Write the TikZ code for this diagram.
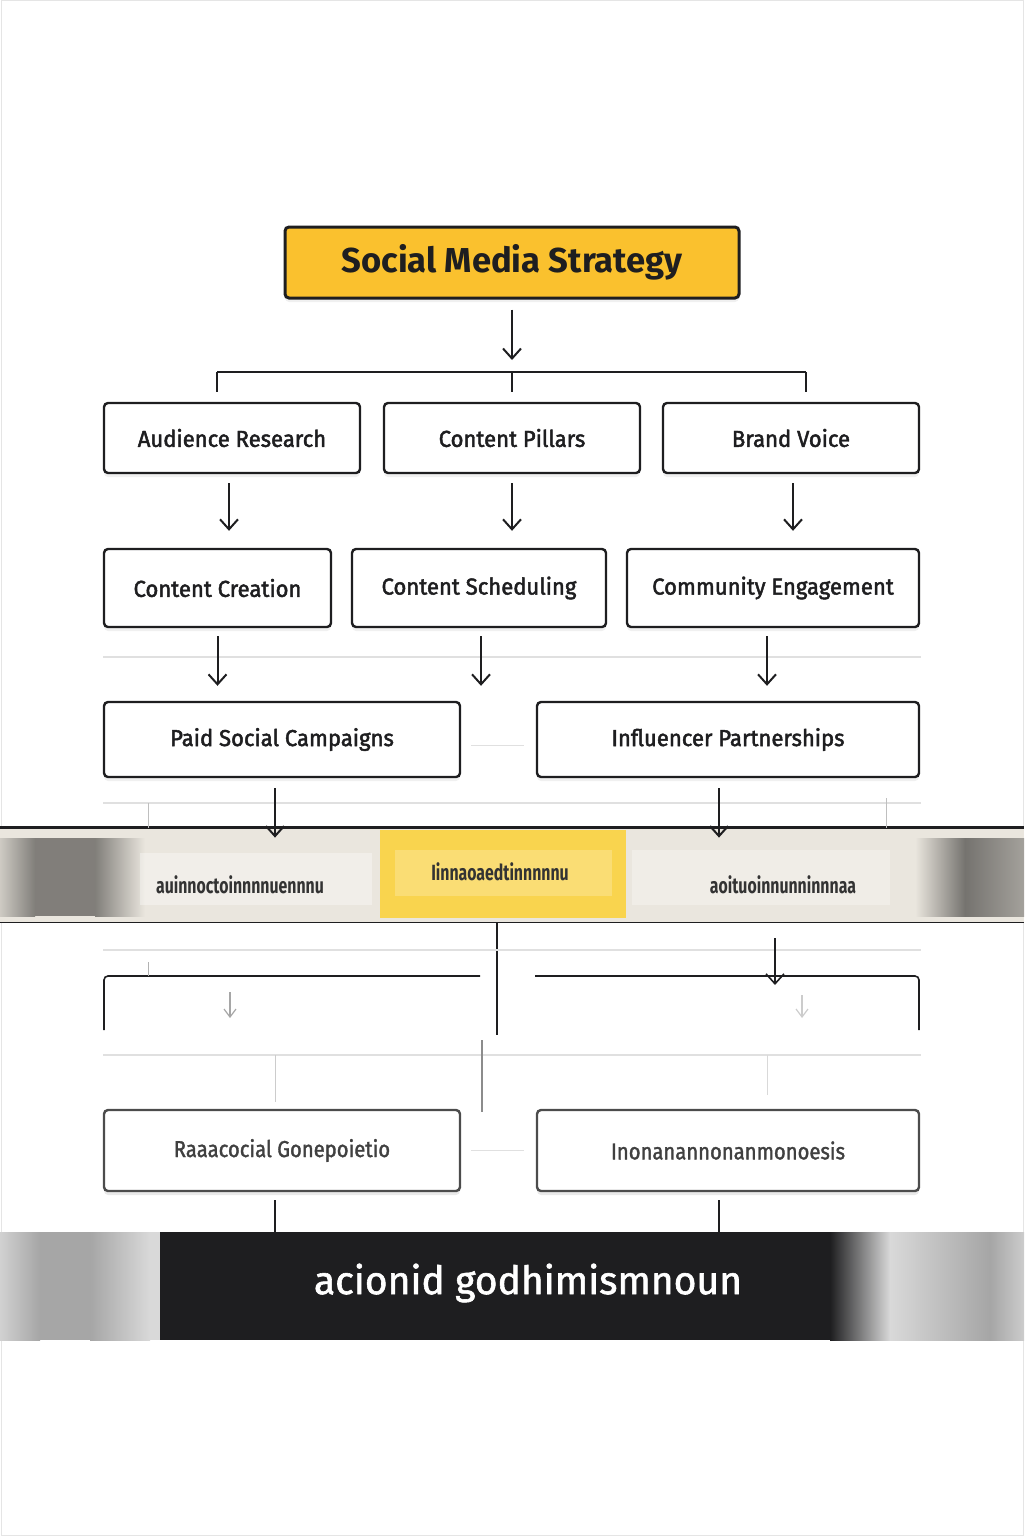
\documentclass[tikz,border=0pt]{standalone}
\usepackage{fontspec}
\setmainfont{Fira Sans}
\usepackage{xcolor}
\usetikzlibrary{arrows.meta,calc,positioning,shadows}
\definecolor{stratyellow}{RGB}{250,193,46}
\definecolor{bandbeige}{RGB}{234,230,222}
\definecolor{bandyellow}{RGB}{249,212,78}
\definecolor{inkblack}{RGB}{30,30,32}

\begin{document}
\begin{tikzpicture}[x=0.5pt,y=-0.5pt,
	box/.style={draw=inkblack,line width=1.2pt,rounded corners=2pt,fill=white,inner sep=0pt,
		drop shadow={opacity=0.12,shadow xshift=0pt,shadow yshift=-2pt},
		font=\fontsize{11.5}{13}\selectfont\addfontfeatures{FakeBold=2,FakeStretch=0.96},text=inkblack},
	topbox/.style={box,fill=stratyellow,line width=1.5pt,
		font=\fontsize{17.3}{20}\selectfont\bfseries},
	blurbox/.style={box,draw=black!70,drop shadow={opacity=0.06,shadow xshift=0pt,shadow yshift=-2pt},
		font=\fontsize{11.5}{13}\selectfont\addfontfeatures{FakeStretch=0.88,FakeBold=1.5},text=black!75},
	arr/.style={-{Straight Barb[length=5pt,width=9pt]},line width=1pt,draw=inkblack},
	conn/.style={line width=1pt,draw=inkblack},
	faint/.style={draw=black!12,line width=0.6pt},
	garble/.style={font=\fontsize{11}{12}\selectfont\bfseries\addfontfeatures{FakeStretch=0.72},text=black!80}]
	\useasboundingbox (0,0) rectangle (1024,1536);
	\draw[black!10,line width=0.5pt] (1,1) rectangle (1023,1535);

	% top of the tree
	\node[topbox,minimum width=227pt,minimum height=35.5pt] (strat) at (512,262.5) {Social Media Strategy};
	\coordinate (busc) at (512,372);
	\coordinate (busl) at (217,372);
	\coordinate (busr) at (806,372);

	\node[box,minimum width=128pt,minimum height=35pt] (aud) at (232,438) {Audience Research};
	\node[box,minimum width=128pt,minimum height=35pt] (pil) at (512,438) {Content Pillars};
	\node[box,minimum width=128pt,minimum height=35pt] (voice) at (791,438) {Brand Voice};

	\node[box,minimum width=113.5pt,minimum height=39pt] (creat) at (217.5,588) {Content Creation};
	\node[box,minimum width=127pt,minimum height=39pt] (sched) at (479,588) {Content Scheduling};
	\node[box,minimum width=146pt,minimum height=39pt] (comm) at (773,588) {Community Engagement};

	\node[box,minimum width=178pt,minimum height=37.5pt] (paid) at (282,739.5) {Paid Social Campaigns};
	\node[box,minimum width=191pt,minimum height=37.5pt] (infl) at (728,739.5) {Influencer Partnerships};

	\draw[arr] ([yshift=-5pt]strat.south) -- ([yshift=6pt]busc);
	\draw[conn] (busl) -- (busr);
	\draw[conn] (busl) -- ([yshift=5pt]busl |- aud.north);
	\draw[conn] (busc) -- ([yshift=5pt]pil.north);
	\draw[conn] (busr) -- ([yshift=5pt]busr |- voice.north);

	\draw[arr] ([yshift=-4.5pt,xshift=-1.5pt]aud.south) -- ([yshift=8.5pt,xshift=-1.5pt]aud.south |- creat.north);
	\draw[arr] ([yshift=-4.5pt]pil.south) -- ([yshift=8.5pt]pil.south |- sched.north);
	\draw[arr] ([yshift=-4.5pt,xshift=1pt]voice.south) -- ([yshift=8.5pt,xshift=1pt]voice.south |- comm.north);

	\draw[faint] (103,657) -- (921,657);
	\draw[arr] ([yshift=-4pt]creat.south) -- ([yshift=7.5pt]creat.south |- paid.north);
	\draw[arr] ([yshift=-4pt,xshift=1pt]sched.south) -- ([yshift=7.5pt,xshift=1pt]sched.south |- paid.north);
	\draw[arr] ([yshift=-4pt,xshift=-3pt]comm.south) -- ([yshift=7.5pt,xshift=-3pt]comm.south |- infl.north);
	\draw[faint] (paid.east) ++(5pt,-3pt) -- ([xshift=-6pt,yshift=-3pt]infl.west);

	% blurred band
	\node[minimum width=512pt,minimum height=47pt,inner sep=0pt,fill=bandbeige] (band) at (512,875) {};
	\shade[left color=black!12!bandbeige,right color=black!45!bandbeige] (0,838) rectangle (35,916);
	\fill[black!45!bandbeige] (35,838) rectangle (95,916);
	\shade[left color=black!45!bandbeige,right color=bandbeige] (95,838) rectangle (145,916);
	\shade[left color=bandbeige,right color=black!50!bandbeige] (915,838) rectangle (965,916);
	\shade[left color=black!50!bandbeige,right color=black!30!bandbeige] (965,838) rectangle (1024,916);
	\fill[white,opacity=0.35] (140,853) rectangle (372,905);
	\fill[white,opacity=0.3] (632,850) rectangle (890,905);
	\fill[bandyellow] (380,830) rectangle (626,918);
	\fill[white,opacity=0.22] (395,850) rectangle (612,896);
	\draw[inkblack,line width=1.3pt] (band.north west) -- (band.north east);
	\draw[inkblack,line width=0.9pt] (band.south west) -- (band.south east);
	\node[garble] (bandl) at (240,885) {auinnoctoinnnnuennnu};
	\node[garble] (bandm) at (500,872) {Iinnaoaedtinnnnnu};
	\node[garble] (bandr) at (783,885) {aoituoinnunninnnaa};

	\draw[faint] (103,803) -- (921,803);
	\draw[black!25,line width=0.5pt] (148,803) -- (148,828);
	\draw[black!25,line width=0.5pt] (886,798) -- (886,828);
	\draw[arr] ([yshift=-5pt,xshift=-3.5pt]paid.south) -- ([yshift=-5pt,xshift=-3.5pt]paid.south |- band.north);
	\draw[arr] ([yshift=-5pt,xshift=-4.5pt]infl.south) -- ([yshift=-5pt,xshift=-4.5pt]infl.south |- band.north);

	% under the band
	\coordinate (midl) at (497,1035);
	\draw[conn] ([xshift=-7.5pt]band.south) -- (midl);
	\draw[faint] (103,950) -- (921,950);
	\draw[conn,line width=0.8pt,rounded corners=2pt] (104,1030) -- (104,976) -- (480,976);
	\draw[conn,line width=0.8pt,rounded corners=2pt] (535,976) -- (919,976) -- (919,1030);
	\draw[arr,line width=0.8pt] (775,938) -- (775,985);
	\draw[black!30,line width=0.5pt] (148,962) -- (148,976);
	\draw[-{Straight Barb[length=4pt,width=6pt]},black!35,line width=0.6pt] (230,992) -- (230,1018);
	\draw[-{Straight Barb[length=4pt,width=6pt]},black!20,line width=0.6pt] (802,995) -- (802,1018);
	\draw[faint] (103,1055) -- (921,1055);
	\draw[black!20,line width=0.5pt] (275,1055) -- (275,1102);
	\draw[black!45,line width=0.6pt] (482,1040) -- (482,1112);
	\draw[black!15,line width=0.5pt] (767,1055) -- (767,1095);

	\node[blurbox,minimum width=178pt,minimum height=40.5pt] (paidb) at (282,1150.5) {Raaacocial Gonepoietio};
	\node[blurbox,minimum width=191pt,minimum height=40.5pt] (inflb) at (728,1150.5) {Inonanannonanmonoesis};
	\draw[faint] ([xshift=5pt]paidb.east) -- ([xshift=-6pt]inflb.west);

	% dark footer
	\node[minimum width=512pt,minimum height=54pt,inner sep=0pt,fill=inkblack] (foot) at (512,1286) {};
	\shade[left color=black!18,right color=black!35] (0,1232) rectangle (40,1340);
	\fill[black!35] (40,1232) rectangle (90,1340);
	\shade[left color=black!35,right color=black!15] (90,1232) rectangle (150,1340);
	\fill[black!15] (150,1232) rectangle (160,1340);
	\shade[left color=inkblack,right color=black!15] (830,1232) rectangle (890,1340);
	\shade[left color=black!15,right color=black!35] (890,1232) rectangle (990,1340);
	\shade[left color=black!35,right color=black!20] (990,1232) rectangle (1024,1340);
	\node[text=white,font=\fontsize{19.5}{22}\selectfont\addfontfeatures{FakeBold=1.5}] (foottxt) at (528,1283) {acionid godhimismnoun};
	\draw[conn,line width=0.8pt] ([yshift=-4pt,xshift=-3.5pt]paidb.south) -- ([xshift=-3.5pt]paidb.south |- foot.north);
	\draw[conn,line width=0.6pt] ([yshift=-4pt,xshift=-4.5pt]inflb.south) -- ([xshift=-4.5pt]inflb.south |- foot.north);
\end{tikzpicture}
\end{document}
